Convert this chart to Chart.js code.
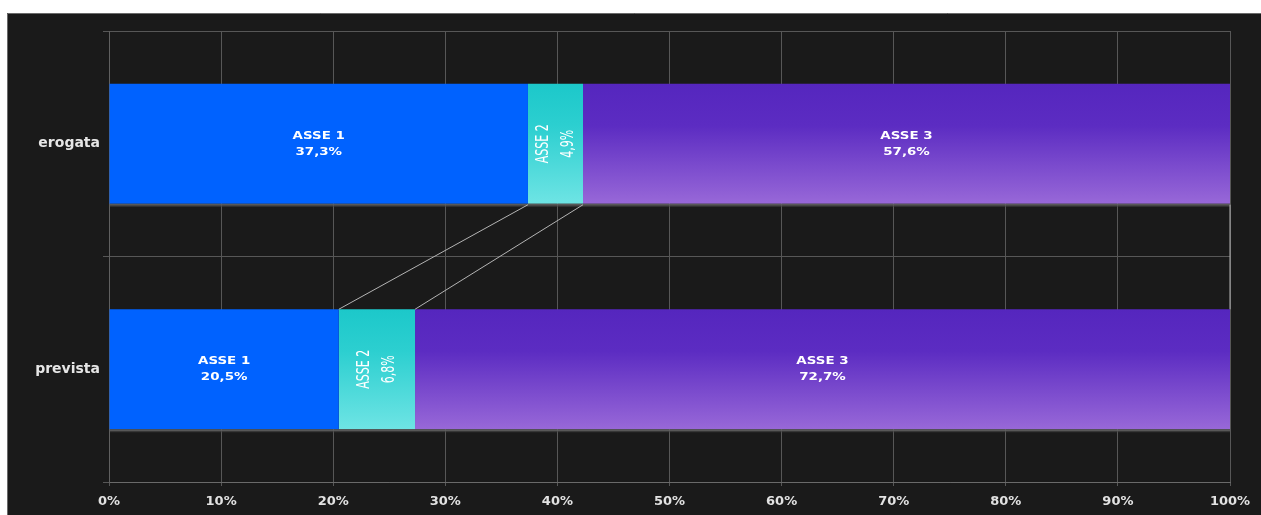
<!DOCTYPE html>
<html><head><meta charset="utf-8">
<script src="https://cdn.jsdelivr.net/npm/chart.js@4/dist/chart.umd.min.js"></script>
<style>html,body{margin:0;padding:0;background:#fff;overflow:hidden}#wrap{width:1261px;height:515px;position:relative}</style>
</head><body><div id="wrap"><canvas id="c" width="1261" height="515"></canvas></div>
<script>
const categories = ['erogata', 'prevista'];
const seriesNames = ['ASSE 1', 'ASSE 2', 'ASSE 3'];
const asse1 = [37.3, 20.5];
const asse2 = [4.9, 6.8];
const asse3 = [57.6, 72.7];
const tickValues = [0, 10, 20, 30, 40, 50, 60, 70, 80, 90, 100];

const BAR_PCT = 0.532;
const raw = [asse1, asse2, asse3];
const totals = categories.map((_, i) => raw.reduce((s, a) => s + a[i], 0));
const share = a => a.map((v, i) => v / totals[i] * 100);

function grad(top, mid, bottom) {
  return function (ctx) {
    const chart = ctx.chart, y = chart.scales && chart.scales.y;
    if (!y || ctx.dataIndex == null || !isFinite(y.top)) return top;
    const c = y.getPixelForValue(ctx.dataIndex);
    const half = (y.bottom - y.top) / categories.length * BAR_PCT / 2;
    if (!isFinite(c)) return top;
    const g = chart.ctx.createLinearGradient(0, c - half, 0, c + half);
    g.addColorStop(0, top);
    g.addColorStop(0.35, mid);
    g.addColorStop(1, bottom);
    return g;
  };
}

const bgPlugin = {
  id: 'bg',
  beforeDraw(chart) {
    const ctx = chart.ctx;
    ctx.save();
    ctx.fillStyle = '#ffffff';
    ctx.fillRect(0, 0, chart.width, chart.height);
    ctx.fillStyle = '#1a1a1a';
    ctx.fillRect(7, 13, chart.width - 7, chart.height - 13);
    ctx.strokeStyle = '#6a6a6a';
    ctx.lineWidth = 1;
    ctx.beginPath();
    ctx.moveTo(7.5, chart.height);
    ctx.lineTo(7.5, 13.5);
    ctx.lineTo(chart.width, 13.5);
    ctx.stroke();
    ctx.restore();
  }
};

const decoPlugin = {
  id: 'deco',
  afterDatasetsDraw(chart) {
    const ctx = chart.ctx;
    const area = chart.chartArea;
    ctx.save();
    const m0 = chart.getDatasetMeta(0);
    m0.data.forEach(el => {
      const b = el.y + el.height / 2;
      ctx.fillStyle = 'rgba(95,95,95,0.9)';
      ctx.fillRect(area.left + 1, b, area.right - area.left - 1, 2);
      ctx.fillStyle = 'rgba(70,70,70,0.7)';
      ctx.fillRect(area.left + 1, b + 2, area.right - area.left - 1, 1);
    });
    ctx.strokeStyle = '#b4b4b4';
    ctx.lineWidth = 1;
    for (let d = 0; d < chart.data.datasets.length; d++) {
      const meta = chart.getDatasetMeta(d);
      for (let i = 0; i < categories.length - 1; i++) {
        const a = meta.data[i], b = meta.data[i + 1];
        ctx.beginPath();
        ctx.moveTo(a.x, a.y + a.height / 2 + 1);
        ctx.lineTo(b.x, b.y - b.height / 2);
        ctx.stroke();
      }
    }
    ctx.fillStyle = '#ffffff';
    ctx.textAlign = 'center';
    ctx.textBaseline = 'middle';
    chart.data.datasets.forEach((ds, d) => {
      const meta = chart.getDatasetMeta(d);
      meta.data.forEach((el, i) => {
        const cx = (el.x + el.base) / 2, cy = el.y;
        const val = raw[d][i].toFixed(1).replace('.', ',') + '%';
        ctx.save();
        ctx.translate(cx, cy);
        if (d === 1) {
          ctx.rotate(-Math.PI / 2);
          ctx.font = '17px "Liberation Sans Narrow", "DejaVu Sans Condensed", sans-serif';
          ctx.scale(0.72, 1);
          ctx.fillText(ds.label, 0, -12);
          ctx.fillText(val, 0, 13);
        } else {
          ctx.font = 'bold 11px "DejaVu Sans", sans-serif';
          ctx.scale(1.22, 1);
          ctx.fillText(ds.label, 0, -8);
          ctx.fillText(val, 0, 8);
        }
        ctx.restore();
      });
    });
    ctx.restore();
  }
};

new Chart(document.getElementById('c'), {
  type: 'bar',
  data: {
    labels: categories,
    datasets: [
      { label: seriesNames[0], data: share(asse1), backgroundColor: '#0062ff' },
      { label: seriesNames[1], data: share(asse2), backgroundColor: grad('#1cc8ca', '#2ccfd0', '#6ee4e4') },
      { label: seriesNames[2], data: share(asse3), backgroundColor: grad('#5526be', '#5c2cc2', '#9868d8') }
    ]
  },
  options: {
    indexAxis: 'y',
    responsive: false,
    animation: false,
    devicePixelRatio: 1,
    categoryPercentage: 1,
    barPercentage: BAR_PCT,
    layout: { padding: { left: 0, top: 31, right: 31, bottom: 0 } },
    plugins: { legend: { display: false }, tooltip: { enabled: false } },
    scales: {
      x: {
        stacked: true, min: 0, max: 100,
        afterFit(s) { s.height = 33; },
        afterBuildTicks(s) { s.ticks = tickValues.map(v => ({ value: v })); },
        grid: { color: '#575757', tickLength: 4, lineWidth: 1 },
        border: { color: '#6a6a6a' },
        ticks: {
          color: '#e2e2e2', padding: 8, maxRotation: 0,
          font: { family: 'DejaVu Sans', weight: 'bold', size: 13 },
          callback: v => v + '%'
        }
      },
      y: {
        stacked: true,
        afterFit(s) { s.width = 109; },
        grid: { color: '#575757', tickLength: 6, offset: true },
        border: { color: '#606060' },
        ticks: {
          color: '#e6e6e6', padding: 3,
          font: { family: 'DejaVu Sans', weight: 'bold', size: 14 }
        }
      }
    }
  },
  plugins: [bgPlugin, decoPlugin]
});
</script>
</body></html>
